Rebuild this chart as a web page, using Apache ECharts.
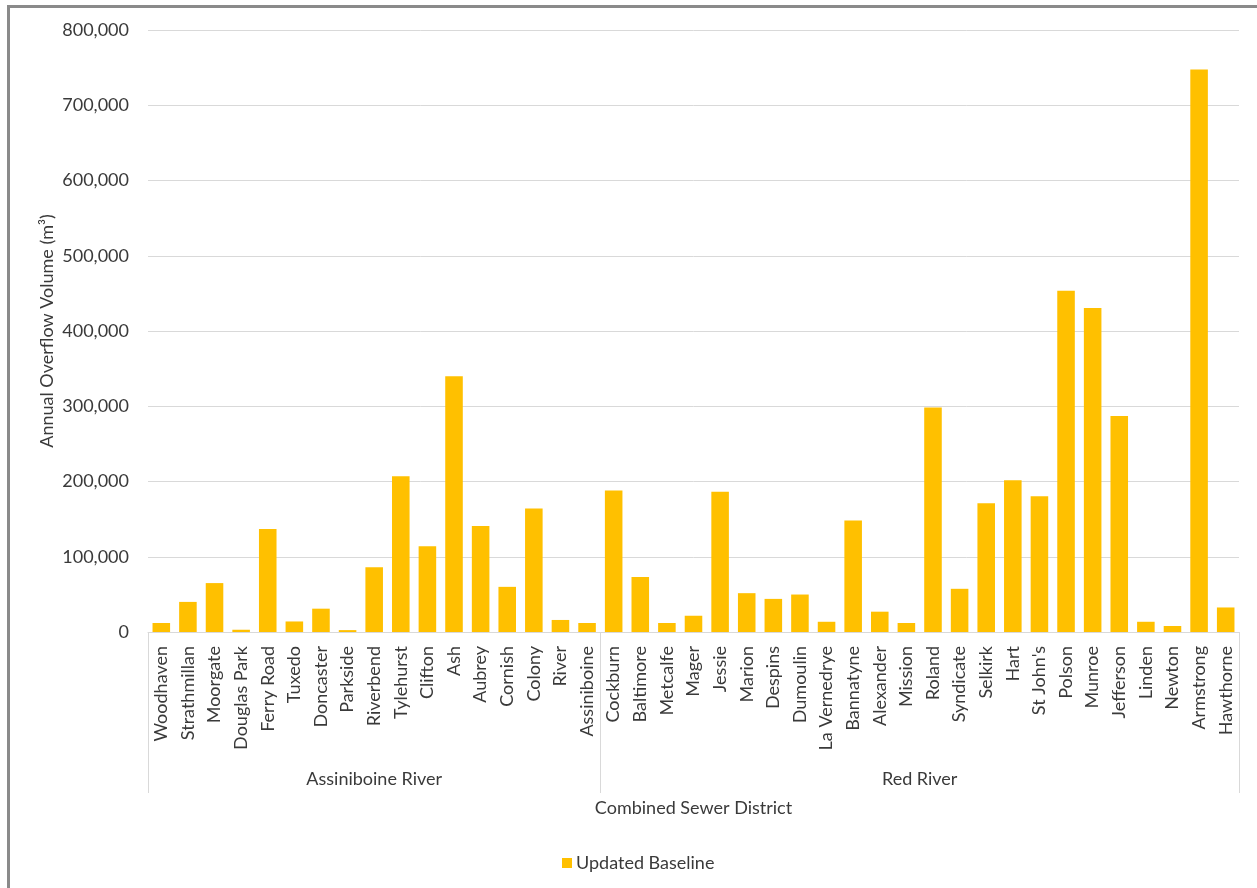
<!DOCTYPE html>
<html>
<head>
<meta charset="utf-8">
<title>Annual Overflow Volume by Combined Sewer District</title>
<script src="https://cdn.jsdelivr.net/npm/echarts@6/dist/echarts.min.js"></script>
<style>
  html, body { margin: 0; padding: 0; background: #ffffff; }
  #chart { width: 1257px; height: 888px; }
</style>
</head>
<body>
<div id="chart"></div>
<script>
// Combined sewer districts, grouped by receiving river
const assiniboineDistricts = [
  'Woodhaven', 'Strathmillan', 'Moorgate', 'Douglas Park', 'Ferry Road', 'Tuxedo',
  'Doncaster', 'Parkside', 'Riverbend', 'Tylehurst', 'Clifton', 'Ash', 'Aubrey',
  'Cornish', 'Colony', 'River', 'Assiniboine'
];
const redDistricts = [
  'Cockburn', 'Baltimore', 'Metcalfe', 'Mager', 'Jessie', 'Marion', 'Despins',
  'Dumoulin', 'La Vernedrye', 'Bannatyne', 'Alexander', 'Mission', 'Roland',
  'Syndicate', 'Selkirk', 'Hart', "St John's", 'Polson', 'Munroe', 'Jefferson',
  'Linden', 'Newton', 'Armstrong', 'Hawthorne'
];
const groupNames = ['Assiniboine River', 'Red River'];

// Updated baseline annual overflow volume (m³)
const assiniboineVolumes = [
  12000, 40000, 65000, 3000, 137000, 14000, 31000, 2500, 86000, 207000, 114000,
  340000, 141000, 60000, 164000, 16000, 12000
];
const redVolumes = [
  188000, 73000, 12000, 21600, 186500, 51600, 44000, 49800, 13600, 148300, 27000,
  12000, 298500, 57400, 171000, 201700, 180500, 453500, 430500, 287000, 13600,
  8000, 747500, 32600
];

const yTicks = [0, 100000, 200000, 300000, 400000, 500000, 600000, 700000, 800000];

const categories = assiniboineDistricts.concat(redDistricts);
const values = assiniboineVolumes.concat(redVolumes);

// Group spans on a 0..N scale: boundaries and label centres
const nA = assiniboineDistricts.length;
const nAll = categories.length;
const groupBounds = [0, nA, nAll];
const groupCentres = [nA / 2, nA + (nAll - nA) / 2];

const FONT = 'Lato, "Open Sans", sans-serif';
const TEXT = '#3a3a3a';
const GRID = '#d9d9d9';

const chart = echarts.init(document.getElementById('chart'), null, { renderer: 'canvas' });

chart.setOption({
  animation: false,
  backgroundColor: '#ffffff',
  textStyle: { fontFamily: FONT },
  grid: { left: 148, right: 18, top: 30, bottom: 256, containLabel: false },
  legend: {
    data: ['Updated Baseline'],
    left: 557,
    top: 849,
    itemWidth: 10,
    itemHeight: 10,
    itemGap: 10,
    icon: 'rect',
    textStyle: { fontFamily: FONT, fontSize: 18, color: TEXT, padding: [0, 0, 0, -1] }
  },
  xAxis: [
    {
      type: 'category',
      data: categories,
      boundaryGap: true,
      axisLine: { show: true, lineStyle: { color: GRID, width: 1 } },
      axisTick: { show: false },
      axisLabel: {
        rotate: 90,
        interval: 0,
        margin: 14,
        fontFamily: FONT,
        fontSize: 18,
        color: TEXT
      },
      splitLine: { show: false }
    },
    {
      // Group level: river names with separators between the groups
      type: 'value',
      position: 'bottom',
      min: 0,
      max: nAll,
      axisLine: { show: false },
      splitLine: { show: false },
      axisTick: {
        show: true,
        inside: false,
        length: 161,
        customValues: groupBounds,
        lineStyle: { color: GRID, width: 1 }
      },
      axisLabel: {
        show: true,
        margin: 138,
        customValues: groupCentres,
        formatter: function (v) {
          return v < nA ? groupNames[0] : groupNames[1];
        },
        fontFamily: FONT,
        fontSize: 18,
        color: TEXT
      },
      name: 'Combined Sewer District',
      nameLocation: 'middle',
      nameGap: 167,
      nameMoveOverlap: false,
      nameTextStyle: { fontFamily: FONT, fontSize: 18, color: TEXT }
    }
  ],
  yAxis: {
    type: 'value',
    min: 0,
    max: 800000,
    interval: 100000,
    axisLine: { show: false },
    axisTick: { show: false },
    splitLine: { show: true, lineStyle: { color: GRID, width: 1 } },
    axisLabel: {
      margin: 19,
      fontFamily: FONT,
      fontSize: 18,
      color: TEXT,
      formatter: function (v) {
        return yTicks.indexOf(v) >= 0 ? v.toLocaleString('en-US') : '';
      }
    },
    name: 'Annual Overflow Volume (m³)',
    nameLocation: 'middle',
    nameGap: 92,
    nameMoveOverlap: false,
    nameTextStyle: { fontFamily: FONT, fontSize: 18, color: TEXT }
  },
  series: [
    {
      name: 'Updated Baseline',
      type: 'bar',
      xAxisIndex: 0,
      data: values,
      barCategoryGap: '34%',
      itemStyle: { color: '#ffc000' }
    }
  ],
  graphic: [
    {
      // chart frame
      type: 'rect',
      silent: true,
      shape: { x: 8.5, y: 6.5, width: 1400, height: 1000 },
      style: { fill: 'none', stroke: '#8a8a8a', lineWidth: 3 }
    }
  ]
});
</script>
</body>
</html>
